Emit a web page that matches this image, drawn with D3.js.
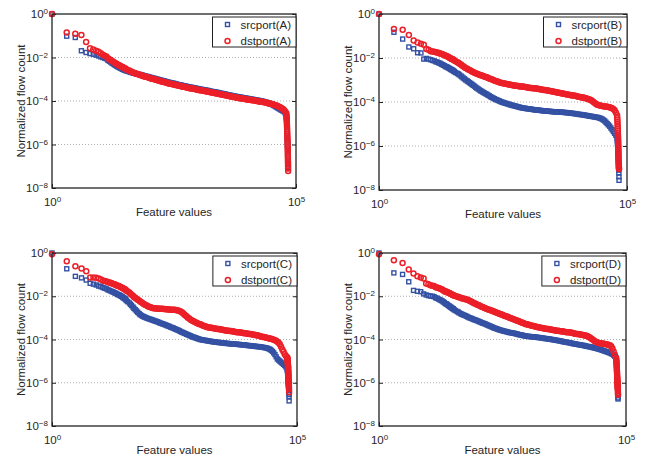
<!DOCTYPE html>
<html>
<head>
<meta charset="utf-8">
<script src="https://cdn.jsdelivr.net/npm/d3@7"></script>
<style>
  body { margin: 0; background: #fff; }
  text { font-family: "Liberation Sans", Arial, Helvetica, sans-serif; fill: #262626; }
</style>
</head>
<body>
<svg id="chart" width="651" height="462"></svg>
<script>
// feature value rank (x axis), shared by every series
const ranks = [1, 2, 3, 4, 5, 6, 7, 8, 9, 10,
  11, 13, 14, 16, 18, 20, 22, 25, 28, 32,
  35, 40, 45, 50, 56, 63, 71, 79, 89, 100,
  112, 126, 141, 158, 178, 200, 224, 251, 282, 316,
  355, 398, 447, 501, 562, 631, 708, 794, 891, 1000,
  1122, 1259, 1413, 1585, 1778, 1995, 2239, 2512, 2818, 3162,
  3548, 3981, 4467, 5012, 5623, 6310, 7079, 7943, 8913, 10000,
  11220, 12589, 14125, 15849, 17783, 19953, 22387, 25119, 28184, 31623,
  35481, 39811, 44668, 50119, 56234, 63096, 64000, 64500, 65000, 65500,
  66000, 66500, 67000, 67300, 67600, 67900, 68200, 68500, 68800, 69000];
// more ranks read in between, where the markers crowd into a band
const ranks2 = [12, 15, 17, 19, 21, 23, 24, 26, 27, 29, 30, 31,
  33, 38, 42, 47, 53, 60, 67, 75, 84, 94,
  106, 119, 133, 150, 168, 188, 211, 237, 266, 299,
  335, 376, 422, 473, 531, 596, 668, 750, 841, 944,
  1059, 1189, 1334, 1496, 1679, 1884, 2113, 2371, 2661, 2985,
  3350, 3758, 4217, 4732, 5309, 5957, 6683, 7499, 8414, 9441,
  10593, 11885, 13335, 14962, 16788, 18836, 21135, 23714, 26607, 29854,
  33497, 37584, 42170, 47315, 53088, 59566,
  63500, 64250, 64750, 65250, 65750, 66250, 66750, 67150, 67450, 67750, 68050, 68350, 68650, 68900];

// normalized flow count, stored as log10; null = no marker
const srcA = [0, -1.02, -1.08, -1.69, -1.77, -1.82, -1.85, -1.89, -1.93, -1.97,
  -2.00, -2.06, -2.13, -2.21, -2.29, -2.36, -2.42, -2.48, -2.54, -2.59,
  -2.63, -2.67, -2.70, -2.73, -2.76, -2.78, -2.81, -2.84, -2.87, -2.90,
  -2.93, -2.96, -2.99, -3.02, -3.05, -3.08, -3.11, -3.14, -3.17, -3.19,
  -3.22, -3.25, -3.27, -3.30, -3.32, -3.35, -3.37, -3.39, -3.41, -3.44,
  -3.46, -3.48, -3.50, -3.52, -3.55, -3.57, -3.59, -3.61, -3.64, -3.66,
  -3.68, -3.71, -3.73, -3.76, -3.78, -3.80, -3.82, -3.84, -3.86, -3.88,
  -3.90, -3.92, -3.94, -3.96, -3.98, -4.00, -4.03, -4.06, -4.10, -4.15,
  -4.21, -4.28, -4.35, -4.42, -4.48, -4.60, -4.75, -4.90, -5.10, -5.30,
  -5.50, -5.70, -5.90, -6.10, -6.30, -6.50, -6.70, -6.85, -7.00, -7.10];
const srcA2 = [-2.03, -2.17, -2.26, -2.33, -2.39, -2.43, -2.46, -2.50, -2.52, -2.55, -2.57, -2.58,
  -2.61, -2.65, -2.69, -2.72, -2.75, -2.77, -2.80, -2.83, -2.86, -2.89,
  -2.92, -2.95, -2.98, -3.01, -3.04, -3.07, -3.10, -3.13, -3.16, -3.18,
  -3.21, -3.24, -3.26, -3.29, -3.31, -3.34, -3.36, -3.38, -3.40, -3.43,
  -3.45, -3.47, -3.49, -3.51, -3.54, -3.56, -3.58, -3.60, -3.63, -3.65,
  -3.67, -3.70, -3.72, -3.75, -3.77, -3.79, -3.81, -3.83, -3.85, -3.87,
  -3.89, -3.91, -3.93, -3.95, -3.97, -3.99, -4.02, -4.05, -4.08, -4.13,
  -4.18, -4.25, -4.32, -4.39, -4.45, -4.54,
  -4.68, -4.83, -5.00, -5.20, -5.40, -5.60, -5.80, -6.00, -6.20, -6.40, -6.60, -6.78, -6.93, -7.05];
const dstA = [0, -0.85, -0.91, -0.97, -1.29, -1.58, -1.63, -1.69, -1.74, -1.80,
  -1.87, -1.95, -2.03, -2.12, -2.19, -2.26, -2.32, -2.39, -2.45, -2.51,
  -2.57, -2.62, -2.68, -2.72, -2.76, -2.80, -2.84, -2.87, -2.90, -2.94,
  -2.97, -3.00, -3.04, -3.07, -3.10, -3.13, -3.16, -3.19, -3.22, -3.24,
  -3.27, -3.30, -3.32, -3.35, -3.37, -3.40, -3.42, -3.44, -3.46, -3.49,
  -3.51, -3.53, -3.55, -3.57, -3.60, -3.62, -3.64, -3.66, -3.69, -3.71,
  -3.73, -3.76, -3.78, -3.81, -3.83, -3.85, -3.87, -3.89, -3.91, -3.93,
  -3.94, -3.96, -3.98, -4.00, -4.02, -4.04, -4.06, -4.08, -4.11, -4.14,
  -4.17, -4.21, -4.26, -4.32, -4.40, -4.55, -4.70, -4.85, -5.00, -5.20,
  -5.40, -5.60, -5.80, -6.00, -6.20, -6.40, -6.60, -6.80, -7.00, -7.22];
const dstA2 = [-1.92, -2.08, -2.16, -2.23, -2.29, -2.34, -2.36, -2.41, -2.43, -2.46, -2.48, -2.50,
  -2.54, -2.60, -2.65, -2.70, -2.74, -2.78, -2.82, -2.86, -2.89, -2.92,
  -2.96, -2.99, -3.02, -3.06, -3.09, -3.12, -3.15, -3.18, -3.21, -3.23,
  -3.26, -3.29, -3.31, -3.34, -3.36, -3.39, -3.41, -3.43, -3.45, -3.48,
  -3.50, -3.52, -3.54, -3.56, -3.59, -3.61, -3.63, -3.65, -3.68, -3.70,
  -3.72, -3.75, -3.77, -3.80, -3.82, -3.84, -3.86, -3.88, -3.90, -3.92,
  -3.94, -3.95, -3.97, -3.99, -4.01, -4.03, -4.05, -4.07, -4.10, -4.12,
  -4.15, -4.19, -4.23, -4.29, -4.36, -4.47,
  -4.62, -4.78, -4.92, -5.10, -5.30, -5.50, -5.70, -5.90, -6.10, -6.30, -6.50, -6.70, -6.90, -7.10];
const srcB = [0, -0.83, -1.14, -1.50, -1.58, -1.76, -1.77, -2.05, -2.02, -2.05,
  -2.08, -2.13, -2.17, -2.22, -2.28, -2.33, -2.39, -2.45, -2.52, -2.59,
  -2.66, -2.73, -2.82, -2.91, -3.00, -3.08, -3.16, -3.24, -3.33, -3.41,
  -3.49, -3.56, -3.62, -3.69, -3.76, -3.82, -3.88, -3.93, -3.98, -4.02,
  -4.06, -4.09, -4.13, -4.16, -4.19, -4.22, -4.25, -4.27, -4.29, -4.31,
  -4.32, -4.34, -4.36, -4.37, -4.38, -4.40, -4.41, -4.42, -4.43, -4.44,
  -4.45, -4.45, -4.46, -4.47, -4.48, -4.49, -4.50, -4.52, -4.53, -4.55,
  -4.57, -4.58, -4.60, -4.62, -4.64, -4.66, -4.68, -4.70, -4.73, -4.78,
  -4.86, -4.98, -5.10, -5.26, -5.42, -5.60, -5.75, -5.90, -6.05, -6.20,
  -6.35, -6.50, -6.65, -6.80, -6.90, -7.00, -7.10, -7.23, -7.40, -7.56];
const srcB2 = [-2.11, -2.19, -2.24, -2.30, -2.35, -2.40, -2.42, -2.47, -2.49, -2.53, -2.55, -2.57,
  -2.62, -2.70, -2.77, -2.86, -2.95, -3.04, -3.12, -3.20, -3.28, -3.37,
  -3.45, -3.52, -3.59, -3.65, -3.72, -3.79, -3.85, -3.90, -3.95, -4.00,
  -4.04, -4.07, -4.11, -4.14, -4.17, -4.20, -4.23, -4.26, -4.28, -4.30,
  -4.31, -4.33, -4.35, -4.36, -4.37, -4.39, -4.40, -4.41, -4.42, -4.43,
  -4.44, -4.45, -4.45, -4.46, -4.47, -4.48, -4.49, -4.51, -4.52, -4.54,
  -4.56, -4.57, -4.59, -4.61, -4.63, -4.65, -4.67, -4.69, -4.71, -4.75,
  -4.82, -4.92, -5.04, -5.18, -5.34, -5.51,
  -5.68, -5.82, -5.98, -6.12, -6.28, -6.42, -6.58, -6.72, null, null, null, null, null, null];
const dstB = [0, -0.68, -0.72, -0.96, -1.20, -1.29, -1.35, -1.40, -1.59, -1.62,
  -1.69, -1.72, -1.74, -1.77, -1.81, -1.85, -1.90, -1.96, -2.02, -2.08,
  -2.15, -2.22, -2.30, -2.38, -2.46, -2.52, -2.58, -2.64, -2.69, -2.74,
  -2.78, -2.82, -2.86, -2.91, -2.95, -3.00, -3.04, -3.08, -3.12, -3.15,
  -3.17, -3.19, -3.22, -3.24, -3.26, -3.27, -3.29, -3.30, -3.32, -3.34,
  -3.36, -3.37, -3.39, -3.40, -3.42, -3.44, -3.46, -3.48, -3.50, -3.52,
  -3.55, -3.57, -3.59, -3.61, -3.64, -3.66, -3.68, -3.70, -3.72, -3.75,
  -3.77, -3.79, -3.82, -3.85, -3.89, -3.95, -4.05, -4.12, -4.16, -4.18,
  -4.20, -4.22, -4.24, -4.28, -4.38, -4.60, -4.80, -5.00, -5.20, -5.40,
  -5.60, -5.80, -6.00, -6.20, -6.40, -6.60, -6.80, -6.95, -7.00, -7.04];
const dstB2 = [-1.71, -1.75, -1.79, -1.83, -1.87, -1.91, -1.93, -1.98, -2.00, -2.04, -2.05, -2.07,
  -2.11, -2.19, -2.26, -2.34, -2.42, -2.49, -2.55, -2.61, -2.67, -2.72,
  -2.76, -2.80, -2.84, -2.88, -2.93, -2.97, -3.02, -3.06, -3.10, -3.14,
  -3.16, -3.18, -3.20, -3.23, -3.25, -3.26, -3.28, -3.30, -3.31, -3.33,
  -3.35, -3.36, -3.38, -3.39, -3.41, -3.43, -3.45, -3.47, -3.49, -3.51,
  -3.53, -3.56, -3.58, -3.60, -3.62, -3.65, -3.67, -3.69, -3.71, -3.73,
  -3.76, -3.78, -3.80, -3.83, -3.87, -3.92, -4.00, -4.09, -4.14, -4.17,
  -4.19, -4.21, -4.23, -4.26, -4.32, -4.48,
  -4.70, -4.90, -5.10, -5.30, -5.50, -5.70, -5.90, -6.10, -6.30, -6.50, -6.70, -6.88, null, null];
const srcC = [0, -0.73, -1.08, -1.15, -1.25, -1.40, -1.44, -1.48, -1.53, -1.56,
  -1.60, -1.66, -1.71, -1.76, -1.81, -1.86, -1.92, -1.98, -2.06, -2.15,
  -2.25, -2.37, -2.50, -2.62, -2.74, -2.85, -2.92, -2.97, -3.02, -3.06,
  -3.10, -3.14, -3.18, -3.23, -3.27, -3.31, -3.36, -3.40, -3.45, -3.50,
  -3.55, -3.60, -3.66, -3.71, -3.76, -3.81, -3.86, -3.90, -3.94, -3.98,
  -4.01, -4.03, -4.05, -4.07, -4.09, -4.11, -4.12, -4.14, -4.15, -4.16,
  -4.18, -4.19, -4.20, -4.21, -4.22, -4.23, -4.24, -4.25, -4.26, -4.28,
  -4.29, -4.30, -4.32, -4.33, -4.34, -4.36, -4.38, -4.41, -4.46, -4.55,
  -4.70, -4.90, -5.00, -5.10, -5.20, -5.35, -5.45, -5.55, -5.65, -5.75,
  -5.85, -5.95, -6.05, -6.15, -6.25, -6.35, -6.45, -6.55, -6.65, -6.84];
const srcC2 = [-1.63, -1.73, -1.79, -1.84, -1.89, -1.93, -1.95, -2.00, -2.02, -2.07, -2.10, -2.12,
  -2.20, -2.31, -2.43, -2.56, -2.68, -2.80, -2.89, -2.95, -3.00, -3.04,
  -3.08, -3.12, -3.16, -3.20, -3.25, -3.29, -3.33, -3.38, -3.43, -3.47,
  -3.52, -3.57, -3.63, -3.68, -3.73, -3.78, -3.83, -3.88, -3.92, -3.96,
  -4.00, -4.02, -4.04, -4.06, -4.08, -4.10, -4.11, -4.13, -4.14, -4.15,
  -4.17, -4.18, -4.19, -4.20, -4.21, -4.22, -4.23, -4.24, -4.25, -4.27,
  -4.28, -4.29, -4.31, -4.32, -4.33, -4.35, -4.37, -4.39, -4.43, -4.50,
  -4.62, -4.80, -4.95, -5.05, -5.15, -5.27,
  -5.40, -5.50, -5.60, -5.70, -5.80, -5.90, -6.00, -6.10, -6.20, -6.30, null, null, null, null];
const dstC = [-0.06, -0.38, -0.61, -0.72, -0.84, -1.13, -1.13, -1.15, -1.18, -1.22,
  -1.28, -1.32, -1.35, -1.39, -1.43, -1.48, -1.52, -1.57, -1.63, -1.70,
  -1.78, -1.88, -1.98, -2.07, -2.16, -2.24, -2.32, -2.39, -2.45, -2.50,
  -2.54, -2.56, -2.57, -2.58, -2.58, -2.59, -2.60, -2.61, -2.62, -2.63,
  -2.65, -2.68, -2.74, -2.84, -2.94, -3.03, -3.11, -3.17, -3.23, -3.28,
  -3.32, -3.37, -3.41, -3.44, -3.46, -3.48, -3.50, -3.52, -3.54, -3.56,
  -3.58, -3.60, -3.61, -3.63, -3.65, -3.66, -3.68, -3.70, -3.71, -3.73,
  -3.75, -3.77, -3.79, -3.82, -3.85, -3.88, -3.90, -3.93, -3.96, -3.99,
  -4.03, -4.10, -4.22, -4.46, -4.68, -4.82, -4.90, -5.00, -5.10, -5.20,
  -5.30, -5.45, -5.60, -5.75, -5.90, -6.00, -6.10, -6.20, -6.30, -6.44];
const dstC2 = [-1.30, -1.36, -1.41, -1.45, -1.50, -1.53, -1.55, -1.59, -1.61, -1.65, -1.67, -1.69,
  -1.74, -1.83, -1.93, -2.03, -2.12, -2.20, -2.28, -2.36, -2.42, -2.48,
  -2.52, -2.55, -2.57, -2.58, -2.58, -2.59, -2.60, -2.61, -2.62, -2.63,
  -2.64, -2.66, -2.71, -2.79, -2.89, -2.99, -3.07, -3.14, -3.20, -3.26,
  -3.30, -3.35, -3.39, -3.43, -3.45, -3.47, -3.49, -3.51, -3.53, -3.55,
  -3.57, -3.59, -3.61, -3.62, -3.64, -3.66, -3.67, -3.69, -3.71, -3.72,
  -3.74, -3.76, -3.78, -3.80, -3.83, -3.86, -3.89, -3.92, -3.94, -3.97,
  -4.01, -4.06, -4.15, -4.34, -4.57, -4.76,
  -4.86, -4.95, -5.05, -5.15, -5.25, -5.37, -5.52, -5.67, -5.82, -5.95, -6.05, null, null, null];
const srcD = [0, -0.92, -0.99, -1.33, -1.73, -1.77, -1.79, -1.89, -1.94, -1.97,
  -1.99, -2.02, -2.07, -2.13, -2.19, -2.26, -2.34, -2.42, -2.50, -2.58,
  -2.66, -2.73, -2.80, -2.85, -2.90, -2.96, -3.01, -3.05, -3.10, -3.14,
  -3.19, -3.24, -3.28, -3.33, -3.38, -3.43, -3.48, -3.52, -3.56, -3.59,
  -3.62, -3.65, -3.68, -3.70, -3.72, -3.75, -3.78, -3.80, -3.83, -3.85,
  -3.86, -3.87, -3.88, -3.90, -3.91, -3.93, -3.95, -3.96, -3.98, -4.00,
  -4.02, -4.04, -4.06, -4.08, -4.11, -4.13, -4.15, -4.17, -4.20, -4.22,
  -4.24, -4.26, -4.28, -4.31, -4.33, -4.35, -4.38, -4.41, -4.44, -4.48,
  -4.52, -4.56, -4.60, -4.65, -4.72, -4.85, -5.00, -5.15, -5.30, -5.45,
  -5.60, -5.75, -5.90, -6.05, -6.20, -6.35, -6.50, -6.60, -6.70, -6.75];
const srcD2 = [-2.00, -2.09, -2.16, -2.22, -2.29, -2.35, -2.38, -2.44, -2.47, -2.52, -2.55, -2.57,
  -2.62, -2.70, -2.77, -2.83, -2.88, -2.93, -2.99, -3.03, -3.08, -3.12,
  -3.17, -3.22, -3.26, -3.31, -3.36, -3.41, -3.46, -3.50, -3.54, -3.58,
  -3.61, -3.64, -3.67, -3.69, -3.71, -3.74, -3.77, -3.79, -3.82, -3.84,
  -3.86, -3.87, -3.88, -3.89, -3.91, -3.92, -3.94, -3.96, -3.97, -3.99,
  -4.01, -4.03, -4.05, -4.07, -4.10, -4.12, -4.14, -4.16, -4.19, -4.21,
  -4.23, -4.25, -4.27, -4.30, -4.32, -4.34, -4.37, -4.40, -4.43, -4.46,
  -4.50, -4.54, -4.58, -4.62, -4.68, -4.78,
  -4.92, -5.08, -5.22, -5.38, -5.52, -5.68, -5.82, -5.98, -6.12, -6.28, null, null, null, null];
const dstD = [-0.06, -0.34, -0.46, -0.76, -0.95, -1.07, -1.13, -1.18, -1.41, -1.44,
  -1.49, -1.53, -1.58, -1.62, -1.67, -1.73, -1.79, -1.84, -1.89, -1.95,
  -1.99, -2.03, -2.07, -2.10, -2.14, -2.17, -2.23, -2.29, -2.34, -2.40,
  -2.45, -2.50, -2.55, -2.60, -2.64, -2.68, -2.73, -2.78, -2.82, -2.86,
  -2.91, -2.95, -3.00, -3.04, -3.09, -3.13, -3.18, -3.22, -3.27, -3.30,
  -3.33, -3.36, -3.39, -3.42, -3.45, -3.47, -3.49, -3.51, -3.53, -3.55,
  -3.57, -3.59, -3.61, -3.62, -3.64, -3.66, -3.67, -3.69, -3.72, -3.74,
  -3.76, -3.78, -3.80, -3.83, -3.88, -3.96, -4.05, -4.12, -4.16, -4.18,
  -4.20, -4.22, -4.25, -4.31, -4.55, -4.85, -5.00, -5.15, -5.30, -5.45,
  -5.60, -5.75, -5.90, -6.00, -6.10, -6.20, -6.30, -6.40, -6.50, -6.56];
const dstD2 = [-1.51, -1.59, -1.64, -1.69, -1.74, -1.78, -1.80, -1.84, -1.86, -1.90, -1.92, -1.94,
  -1.97, -2.01, -2.05, -2.09, -2.12, -2.15, -2.20, -2.26, -2.32, -2.37,
  -2.42, -2.48, -2.53, -2.58, -2.62, -2.66, -2.71, -2.75, -2.80, -2.84,
  -2.89, -2.93, -2.97, -3.02, -3.06, -3.11, -3.15, -3.20, -3.24, -3.29,
  -3.32, -3.35, -3.38, -3.41, -3.43, -3.46, -3.48, -3.50, -3.52, -3.54,
  -3.56, -3.58, -3.60, -3.62, -3.63, -3.65, -3.67, -3.68, -3.70, -3.73,
  -3.75, -3.77, -3.79, -3.81, -3.85, -3.92, -4.00, -4.09, -4.14, -4.17,
  -4.19, -4.21, -4.23, -4.27, -4.42, -4.70,
  -4.92, -5.08, -5.22, -5.38, -5.52, -5.68, -5.82, -5.95, -6.05, -6.15, -6.25, null, null, null];

const tags = ["A", "B", "C", "D"];
const xTicks = [1, 1e5];
const yTicks = [1, 1e-2, 1e-4, 1e-6, 1e-8];
const gridTicks = [1e-2, 1e-4, 1e-6];

const blue = "#3451a3";
const red = "#ec1f28";

// plot areas of the four panels
const boxes = [
  {l: 52, r: 296, t: 14, b: 188},
  {l: 379, r: 627, t: 14, b: 190},
  {l: 52, r: 297, t: 253, b: 426},
  {l: 379, r: 626, t: 253, b: 426}
];
const series = [
  [srcA, srcA2, dstA, dstA2],
  [srcB, srcB2, dstB, dstB2],
  [srcC, srcC2, dstC, dstC2],
  [srcD, srcD2, dstD, dstD2]
];

const svg = d3.select("#chart");

function sup(sel, d) {
    // "10" with the exponent raised
    const e = Math.round(Math.log10(d));
    sel.text(null);
    sel.append("tspan").text("10");
    sel.append("tspan").attr("dy", "-0.5em").attr("font-size", "8px")
        .text(e < 0 ? "\u2212" + (-e) : e);
}

// join both rank lists with their values, drop the empty ones
function points(a, b) {
    let p = ranks.map((r, k) => [r, a[k]]).concat(ranks2.map((r, k) => [r, b[k]]));
    return p.filter(d => d[1] !== null && d[1] !== undefined)
        .sort((u, v) => u[0] - v[0])
        .map(d => [d[0], Math.pow(10, d[1])]);
}

boxes.forEach((bx, i) => {
    let g = svg.append("g");
    let x = d3.scaleLog().domain([1, 1e5]).range([bx.l, bx.r]);
    let y = d3.scaleLog().domain([1e-8, 1]).range([bx.b, bx.t]);

    // dotted grid
    g.selectAll(".grid").data(gridTicks).enter().append("line")
        .attr("x1", bx.l).attr("x2", bx.r)
        .attr("y1", d => y(d)).attr("y2", d => y(d))
        .attr("stroke", "#9a9a9a").attr("stroke-width", 0.8)
        .attr("stroke-dasharray", "1,2");

    // axes
    let ya = g.append("g").attr("transform", "translate(" + bx.l + ",0)")
        .call(d3.axisLeft(y).tickValues(yTicks).tickSize(-4).tickPadding(4).tickFormat(""));
    ya.selectAll(".tick text").each(function (d) { sup(d3.select(this), d); })
        .style("font-size", "11.5px").attr("fill", "#262626");
    g.append("g").attr("transform", "translate(" + bx.r + ",0)")
        .call(d3.axisRight(y).tickValues(yTicks).tickSize(-4).tickFormat(""));

    let xa = g.append("g").attr("transform", "translate(0," + bx.b + ")")
        .call(d3.axisBottom(x).tickValues(xTicks).tickSize(-4).tickPadding(10).tickFormat(""));
    xa.selectAll(".tick text").each(function (d) { sup(d3.select(this), d); })
        .style("font-size", "11.5px").attr("fill", "#262626");
    g.selectAll(".domain").remove();
    g.selectAll(".tick line").attr("stroke", "#222");

    // markers: src squares first, dst circles on top
    let s = series[i];
    g.append("g").selectAll("rect").data(points(s[0], s[1])).enter().append("rect")
        .attr("x", d => x(d[0]) - 2).attr("y", d => y(d[1]) - 2)
        .attr("width", 4).attr("height", 4)
        .attr("fill", "none").attr("stroke", blue).attr("stroke-width", 1.4);
    g.append("g").selectAll("circle").data(points(s[2], s[3])).enter().append("circle")
        .attr("cx", d => x(d[0])).attr("cy", d => y(d[1])).attr("r", 2.5)
        .attr("fill", "none").attr("stroke", red).attr("stroke-width", 1.5);

    // frame
    g.append("rect").attr("x", bx.l).attr("y", bx.t)
        .attr("width", bx.r - bx.l).attr("height", bx.b - bx.t)
        .attr("fill", "none").attr("stroke", "#222").attr("stroke-width", 1.3);

    // axis labels
    g.append("text").attr("x", (bx.l + bx.r) / 2).attr("y", bx.b + 28)
        .attr("text-anchor", "middle").style("font-size", "11.5px").text("Feature values");
    g.append("text")
        .attr("transform", "translate(" + (bx.l - 27.5) + "," + ((bx.t + bx.b) / 2) + ") rotate(-90)")
        .attr("text-anchor", "middle").style("font-size", "11.5px").text("Normalized flow count");

    // legend
    let lg = g.append("g");
    let box = lg.append("rect").attr("fill", "#fff").attr("stroke", "#222").attr("stroke-width", 1);
    let t1 = lg.append("text").style("font-size", "11.5px").text("srcport(" + tags[i] + ")");
    let t2 = lg.append("text").style("font-size", "11.5px").text("dstport(" + tags[i] + ")");
    let tw = Math.max(t1.node().getComputedTextLength(), t2.node().getComputedTextLength());
    let lw = 28 + tw + 5, lx = bx.r - lw, ly = bx.t + 3;
    box.attr("x", lx).attr("y", ly).attr("width", lw).attr("height", 30);
    t1.attr("x", lx + 28).attr("y", ly + 11.5);
    t2.attr("x", lx + 28).attr("y", ly + 28);
    lg.append("rect").attr("x", lx + 13).attr("y", ly + 5.5).attr("width", 4).attr("height", 4)
        .attr("fill", "none").attr("stroke", blue).attr("stroke-width", 1.4);
    lg.append("circle").attr("cx", lx + 15).attr("cy", ly + 24).attr("r", 2.5)
        .attr("fill", "none").attr("stroke", red).attr("stroke-width", 1.5);
});
</script>
</body>
</html>
